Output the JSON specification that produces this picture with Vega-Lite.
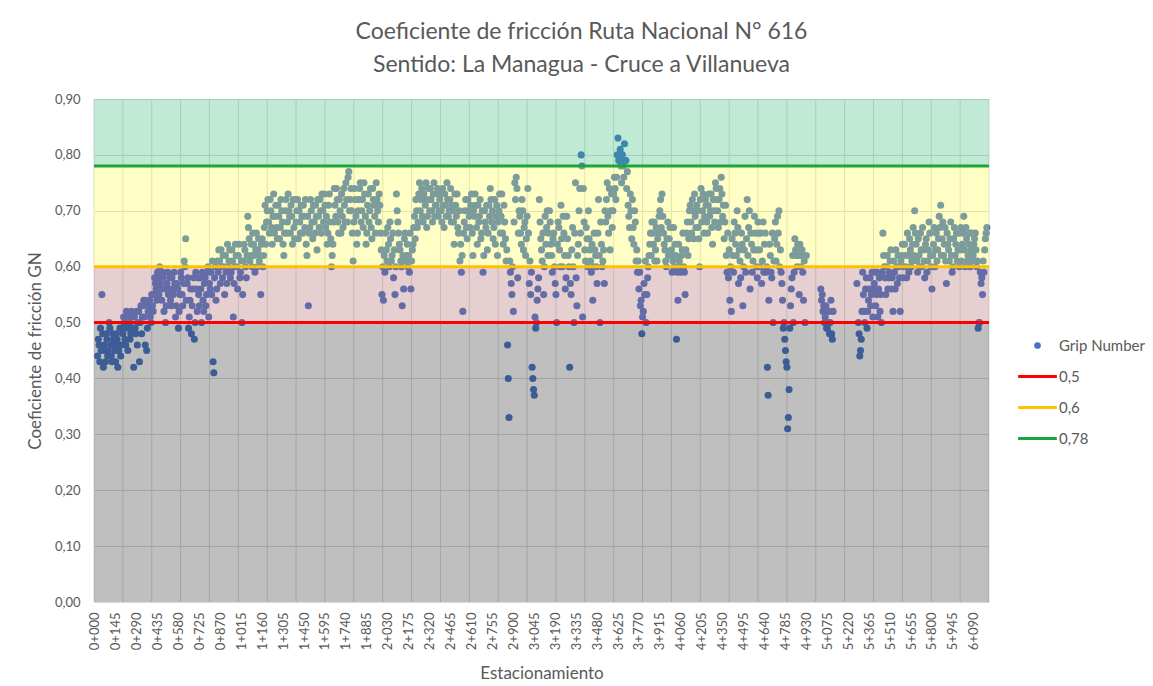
{
"$schema": "https://vega.github.io/schema/vega-lite/v6.json",
"width": 895, "height": 503,
"autosize": {"type": "none"},
"padding": {"left": 94, "top": 99, "right": 164, "bottom": 84},
"background": "white",
"title": {"text": ["Coeficiente de fricción Ruta Nacional N° 616", "Sentido: La Managua - Cruce a Villanueva"], "anchor": "middle", "dx": 40, "offset": 16, "fontSize": 23, "lineHeight": 33, "font": "Lato", "fontWeight": "normal", "color": "#595959"},
"datasets": {
"grid": [{"p":-5},{"p":195},{"p":395},{"p":595},{"p":795},{"p":995},{"p":1195},{"p":1395},{"p":1595},{"p":1795},{"p":1995},{"p":2195},{"p":2395},{"p":2595},{"p":2795},{"p":2995},{"p":3195},{"p":3395},{"p":3595},{"p":3795},{"p":3995},{"p":4195},{"p":4395},{"p":4595},{"p":4795},{"p":4995},{"p":5195},{"p":5395},{"p":5595},{"p":5795},{"p":5995},{"p":6195}],
"bands": [{"lo":0,"hi":0.5,"zone":"gris"},{"lo":0.5,"hi":0.6,"zone":"rosa"},{"lo":0.6,"hi":0.78,"zone":"amarillo"},{"lo":0.78,"hi":0.9,"zone":"verde"}],
"thr": [{"v":0.5,"s":"0,5"},{"v":0.6,"s":"0,6"},{"v":0.78,"s":"0,78"}],
"gn": [
{"s":20,"g":0.44},{"s":30,"g":0.46},{"s":40,"g":0.49},{"s":50,"g":0.55},{"s":60,"g":0.42},{"s":70,"g":0.45},{"s":80,"g":0.48},{"s":90,"g":0.44},{"s":100,"g":0.50},
{"s":110,"g":0.46},{"s":120,"g":0.43},{"s":130,"g":0.47},{"s":140,"g":0.45},{"s":150,"g":0.48},{"s":160,"g":0.42},{"s":170,"g":0.46},{"s":180,"g":0.44},{"s":190,"g":0.49},{"s":200,"g":0.51},
{"s":210,"g":0.47},{"s":220,"g":0.52},{"s":230,"g":0.45},{"s":240,"g":0.50},{"s":250,"g":0.48},{"s":260,"g":0.51},{"s":270,"g":0.42},{"s":280,"g":0.49},{"s":290,"g":0.52},{"s":300,"g":0.50},
{"s":310,"g":0.43},{"s":320,"g":0.53},{"s":330,"g":0.51},{"s":340,"g":0.54},{"s":350,"g":0.46},{"s":360,"g":0.45},{"s":370,"g":0.52},{"s":380,"g":0.54},{"s":390,"g":0.50},{"s":400,"g":0.53},
{"s":410,"g":0.55},{"s":420,"g":0.57},{"s":430,"g":0.54},{"s":440,"g":0.58},{"s":450,"g":0.60},{"s":460,"g":0.56},{"s":470,"g":0.59},{"s":480,"g":0.52},{"s":490,"g":0.50},{"s":500,"g":0.57},
{"s":510,"g":0.55},{"s":520,"g":0.58},{"s":530,"g":0.53},{"s":540,"g":0.56},{"s":550,"g":0.59},{"s":560,"g":0.51},{"s":570,"g":0.57},{"s":580,"g":0.49},{"s":590,"g":0.55},{"s":600,"g":0.58},
{"s":610,"g":0.53},{"s":620,"g":0.61},{"s":630,"g":0.65},{"s":640,"g":0.57},{"s":650,"g":0.49},{"s":660,"g":0.54},{"s":670,"g":0.48},{"s":680,"g":0.56},{"s":690,"g":0.47},{"s":700,"g":0.59},
{"s":710,"g":0.52},{"s":720,"g":0.55},{"s":730,"g":0.58},{"s":740,"g":0.50},{"s":750,"g":0.54},{"s":760,"g":0.57},{"s":770,"g":0.53},{"s":780,"g":0.59},{"s":790,"g":0.51},{"s":800,"g":0.56},
{"s":810,"g":0.55},{"s":820,"g":0.43},{"s":825,"g":0.41},{"s":830,"g":0.58},{"s":840,"g":0.54},{"s":850,"g":0.61},{"s":860,"g":0.63},{"s":870,"g":0.57},{"s":880,"g":0.60},{"s":890,"g":0.62},{"s":900,"g":0.55},
{"s":910,"g":0.59},{"s":920,"g":0.64},{"s":930,"g":0.61},{"s":940,"g":0.58},{"s":950,"g":0.63},{"s":960,"g":0.51},{"s":970,"g":0.60},{"s":980,"g":0.62},{"s":990,"g":0.56},{"s":1000,"g":0.64},
{"s":1010,"g":0.59},{"s":1020,"g":0.50},{"s":1030,"g":0.61},{"s":1040,"g":0.63},{"s":1050,"g":0.58},{"s":1060,"g":0.69},{"s":1070,"g":0.65},{"s":1080,"g":0.62},{"s":1090,"g":0.60},{"s":1100,"g":0.64},
{"s":1110,"g":0.59},{"s":1120,"g":0.66},{"s":1130,"g":0.63},{"s":1140,"g":0.61},{"s":1150,"g":0.55},{"s":1160,"g":0.65},{"s":1170,"g":0.62},{"s":1180,"g":0.71},{"s":1190,"g":0.68},{"s":1200,"g":0.72},
{"s":1210,"g":0.66},{"s":1220,"g":0.70},{"s":1230,"g":0.64},{"s":1240,"g":0.73},{"s":1250,"g":0.69},{"s":1260,"g":0.67},{"s":1270,"g":0.71},{"s":1280,"g":0.65},{"s":1290,"g":0.72},{"s":1300,"g":0.68},
{"s":1310,"g":0.62},{"s":1320,"g":0.70},{"s":1330,"g":0.66},{"s":1340,"g":0.73},{"s":1350,"g":0.69},{"s":1360,"g":0.71},{"s":1370,"g":0.64},{"s":1380,"g":0.67},{"s":1390,"g":0.72},{"s":1400,"g":0.70},
{"s":1410,"g":0.65},{"s":1420,"g":0.68},{"s":1430,"g":0.71},{"s":1440,"g":0.66},{"s":1450,"g":0.69},{"s":1460,"g":0.72},{"s":1470,"g":0.62},{"s":1480,"g":0.53},{"s":1490,"g":0.67},{"s":1500,"g":0.70},
{"s":1510,"g":0.65},{"s":1520,"g":0.68},{"s":1530,"g":0.71},{"s":1540,"g":0.63},{"s":1550,"g":0.69},{"s":1560,"g":0.72},{"s":1570,"g":0.66},{"s":1580,"g":0.70},{"s":1590,"g":0.73},{"s":1600,"g":0.67},
{"s":1610,"g":0.64},{"s":1620,"g":0.71},{"s":1630,"g":0.68},{"s":1640,"g":0.60},{"s":1650,"g":0.64},{"s":1660,"g":0.74},{"s":1670,"g":0.69},{"s":1680,"g":0.72},{"s":1690,"g":0.66},{"s":1700,"g":0.70},
{"s":1710,"g":0.73},{"s":1720,"g":0.67},{"s":1730,"g":0.71},{"s":1740,"g":0.75},{"s":1750,"g":0.68},{"s":1760,"g":0.77},{"s":1770,"g":0.72},{"s":1780,"g":0.70},{"s":1790,"g":0.61},{"s":1800,"g":0.74},
{"s":1810,"g":0.69},{"s":1820,"g":0.66},{"s":1830,"g":0.72},{"s":1840,"g":0.75},{"s":1850,"g":0.70},{"s":1860,"g":0.67},{"s":1870,"g":0.73},{"s":1880,"g":0.64},{"s":1890,"g":0.71},{"s":1900,"g":0.68},
{"s":1910,"g":0.74},{"s":1920,"g":0.65},{"s":1930,"g":0.72},{"s":1940,"g":0.69},{"s":1950,"g":0.75},{"s":1960,"g":0.70},{"s":1970,"g":0.73},{"s":1980,"g":0.66},{"s":1990,"g":0.55},{"s":2000,"g":0.54},
{"s":2010,"g":0.59},{"s":2020,"g":0.63},{"s":2030,"g":0.67},{"s":2040,"g":0.60},{"s":2050,"g":0.65},{"s":2060,"g":0.62},{"s":2070,"g":0.58},{"s":2080,"g":0.55},{"s":2090,"g":0.73},{"s":2100,"g":0.68},
{"s":2110,"g":0.64},{"s":2120,"g":0.61},{"s":2130,"g":0.53},{"s":2140,"g":0.56},{"s":2150,"g":0.66},{"s":2160,"g":0.62},{"s":2170,"g":0.60},{"s":2180,"g":0.59},{"s":2190,"g":0.56},{"s":2200,"g":0.63},
{"s":2210,"g":0.67},{"s":2220,"g":0.65},{"s":2230,"g":0.70},{"s":2240,"g":0.68},{"s":2250,"g":0.75},{"s":2260,"g":0.72},{"s":2270,"g":0.69},{"s":2280,"g":0.73},{"s":2290,"g":0.71},{"s":2300,"g":0.67},
{"s":2310,"g":0.74},{"s":2320,"g":0.70},{"s":2330,"g":0.72},{"s":2340,"g":0.68},{"s":2350,"g":0.75},{"s":2360,"g":0.71},{"s":2370,"g":0.73},{"s":2380,"g":0.69},{"s":2390,"g":0.72},{"s":2400,"g":0.70},
{"s":2410,"g":0.74},{"s":2420,"g":0.67},{"s":2430,"g":0.71},{"s":2440,"g":0.75},{"s":2450,"g":0.69},{"s":2460,"g":0.72},{"s":2470,"g":0.68},{"s":2480,"g":0.70},{"s":2490,"g":0.64},{"s":2500,"g":0.71},
{"s":2510,"g":0.73},{"s":2520,"g":0.66},{"s":2530,"g":0.61},{"s":2540,"g":0.59},{"s":2550,"g":0.52},{"s":2560,"g":0.68},{"s":2570,"g":0.72},{"s":2580,"g":0.65},{"s":2590,"g":0.70},{"s":2600,"g":0.67},
{"s":2610,"g":0.73},{"s":2620,"g":0.62},{"s":2630,"g":0.69},{"s":2640,"g":0.71},{"s":2650,"g":0.64},{"s":2660,"g":0.68},{"s":2670,"g":0.72},{"s":2680,"g":0.66},{"s":2690,"g":0.59},{"s":2700,"g":0.70},
{"s":2710,"g":0.67},{"s":2720,"g":0.63},{"s":2730,"g":0.71},{"s":2740,"g":0.74},{"s":2750,"g":0.68},{"s":2760,"g":0.65},{"s":2770,"g":0.72},{"s":2780,"g":0.69},{"s":2790,"g":0.62},{"s":2800,"g":0.70},
{"s":2810,"g":0.66},{"s":2820,"g":0.73},{"s":2830,"g":0.64},{"s":2840,"g":0.68},{"s":2850,"g":0.61},{"s":2860,"g":0.46},{"s":2865,"g":0.40},{"s":2870,"g":0.33},{"s":2880,"g":0.59},{"s":2890,"g":0.55},{"s":2900,"g":0.52},
{"s":2910,"g":0.75},{"s":2920,"g":0.76},{"s":2930,"g":0.58},{"s":2940,"g":0.70},{"s":2950,"g":0.66},{"s":2960,"g":0.72},{"s":2970,"g":0.63},{"s":2980,"g":0.68},{"s":2990,"g":0.65},{"s":3000,"g":0.74},
{"s":3010,"g":0.57},{"s":3020,"g":0.55},{"s":3030,"g":0.42},{"s":3035,"g":0.40},{"s":3040,"g":0.38},{"s":3045,"g":0.37},{"s":3050,"g":0.51},{"s":3055,"g":0.49},{"s":3060,"g":0.50},{"s":3070,"g":0.56},{"s":3080,"g":0.72},{"s":3090,"g":0.65},{"s":3100,"g":0.61},
{"s":3110,"g":0.55},{"s":3120,"g":0.69},{"s":3130,"g":0.67},{"s":3140,"g":0.62},{"s":3150,"g":0.70},{"s":3160,"g":0.64},{"s":3170,"g":0.59},{"s":3180,"g":0.66},{"s":3190,"g":0.57},{"s":3200,"g":0.50},
{"s":3210,"g":0.68},{"s":3220,"g":0.63},{"s":3230,"g":0.71},{"s":3240,"g":0.60},{"s":3250,"g":0.66},{"s":3260,"g":0.56},{"s":3270,"g":0.69},{"s":3280,"g":0.62},{"s":3290,"g":0.42},{"s":3300,"g":0.55},
{"s":3310,"g":0.67},{"s":3320,"g":0.50},{"s":3330,"g":0.75},{"s":3340,"g":0.53},{"s":3350,"g":0.64},{"s":3360,"g":0.74},{"s":3370,"g":0.80},{"s":3375,"g":0.78},{"s":3380,"g":0.51},{"s":3390,"g":0.68},{"s":3400,"g":0.61},
{"s":3410,"g":0.65},{"s":3420,"g":0.70},{"s":3430,"g":0.63},{"s":3440,"g":0.59},{"s":3450,"g":0.54},{"s":3460,"g":0.66},{"s":3470,"g":0.62},{"s":3480,"g":0.57},{"s":3490,"g":0.72},{"s":3500,"g":0.50},
{"s":3510,"g":0.64},{"s":3520,"g":0.61},{"s":3530,"g":0.57},{"s":3540,"g":0.68},{"s":3550,"g":0.75},{"s":3560,"g":0.66},{"s":3570,"g":0.63},{"s":3580,"g":0.73},{"s":3590,"g":0.70},{"s":3600,"g":0.76},
{"s":3610,"g":0.72},{"s":3620,"g":0.80},{"s":3625,"g":0.83},{"s":3630,"g":0.79},{"s":3640,"g":0.81},{"s":3650,"g":0.75},{"s":3660,"g":0.78},{"s":3670,"g":0.82},{"s":3680,"g":0.79},{"s":3690,"g":0.77},{"s":3700,"g":0.69},
{"s":3710,"g":0.73},{"s":3720,"g":0.65},{"s":3730,"g":0.67},{"s":3740,"g":0.70},{"s":3750,"g":0.61},{"s":3760,"g":0.59},{"s":3770,"g":0.56},{"s":3780,"g":0.53},{"s":3790,"g":0.48},{"s":3800,"g":0.52},
{"s":3810,"g":0.55},{"s":3820,"g":0.50},{"s":3830,"g":0.58},{"s":3840,"g":0.62},{"s":3850,"g":0.66},{"s":3860,"g":0.68},{"s":3870,"g":0.64},{"s":3880,"g":0.61},{"s":3890,"g":0.67},{"s":3900,"g":0.65},
{"s":3910,"g":0.69},{"s":3920,"g":0.72},{"s":3930,"g":0.73},{"s":3940,"g":0.66},{"s":3950,"g":0.63},{"s":3960,"g":0.60},{"s":3970,"g":0.68},{"s":3980,"g":0.65},{"s":3990,"g":0.62},{"s":4000,"g":0.59},
{"s":4010,"g":0.67},{"s":4020,"g":0.64},{"s":4030,"g":0.47},{"s":4040,"g":0.54},{"s":4050,"g":0.61},{"s":4060,"g":0.59},{"s":4070,"g":0.63},{"s":4080,"g":0.60},{"s":4090,"g":0.55},{"s":4100,"g":0.66},
{"s":4110,"g":0.62},{"s":4120,"g":0.70},{"s":4130,"g":0.68},{"s":4140,"g":0.72},{"s":4150,"g":0.65},{"s":4160,"g":0.69},{"s":4170,"g":0.71},{"s":4180,"g":0.67},{"s":4190,"g":0.60},{"s":4200,"g":0.74},
{"s":4210,"g":0.70},{"s":4220,"g":0.66},{"s":4230,"g":0.72},{"s":4240,"g":0.68},{"s":4250,"g":0.71},{"s":4260,"g":0.69},{"s":4270,"g":0.73},{"s":4280,"g":0.64},{"s":4290,"g":0.70},{"s":4300,"g":0.75},
{"s":4310,"g":0.72},{"s":4320,"g":0.67},{"s":4330,"g":0.74},{"s":4340,"g":0.76},{"s":4350,"g":0.69},{"s":4360,"g":0.65},{"s":4370,"g":0.71},{"s":4380,"g":0.59},{"s":4390,"g":0.58},{"s":4400,"g":0.54},
{"s":4410,"g":0.52},{"s":4420,"g":0.62},{"s":4430,"g":0.68},{"s":4440,"g":0.64},{"s":4450,"g":0.70},{"s":4460,"g":0.57},{"s":4470,"g":0.61},{"s":4480,"g":0.66},{"s":4490,"g":0.53},{"s":4500,"g":0.63},
{"s":4510,"g":0.59},{"s":4520,"g":0.72},{"s":4530,"g":0.67},{"s":4540,"g":0.56},{"s":4550,"g":0.64},{"s":4560,"g":0.61},{"s":4570,"g":0.69},{"s":4580,"g":0.63},{"s":4590,"g":0.58},{"s":4600,"g":0.66},
{"s":4610,"g":0.60},{"s":4620,"g":0.57},{"s":4630,"g":0.68},{"s":4640,"g":0.64},{"s":4650,"g":0.59},{"s":4660,"g":0.42},{"s":4665,"g":0.37},{"s":4670,"g":0.54},{"s":4680,"g":0.62},{"s":4690,"g":0.58},{"s":4700,"g":0.50},
{"s":4710,"g":0.65},{"s":4720,"g":0.61},{"s":4730,"g":0.69},{"s":4740,"g":0.70},{"s":4750,"g":0.63},{"s":4760,"g":0.57},{"s":4770,"g":0.49},{"s":4780,"g":0.47},{"s":4785,"g":0.45},{"s":4790,"g":0.43},{"s":4795,"g":0.42},{"s":4800,"g":0.31},
{"s":4805,"g":0.33},{"s":4810,"g":0.38},{"s":4815,"g":0.49},{"s":4820,"g":0.53},{"s":4830,"g":0.58},{"s":4840,"g":0.50},{"s":4850,"g":0.65},{"s":4860,"g":0.62},{"s":4870,"g":0.64},{"s":4880,"g":0.55},{"s":4890,"g":0.60},
{"s":4900,"g":0.63},{"s":4910,"g":0.54},{"s":4920,"g":0.50},{"s":4930,"g":0.62},
{"s":5030,"g":0.56},{"s":5040,"g":0.55},{"s":5050,"g":0.53},{"s":5060,"g":0.51},{"s":5070,"g":0.49},{"s":5080,"g":0.50},{"s":5090,"g":0.48},{"s":5100,"g":0.54},{"s":5110,"g":0.47},{"s":5115,"g":0.52},
{"s":5280,"g":0.57},{"s":5290,"g":0.50},{"s":5295,"g":0.48},{"s":5300,"g":0.44},{"s":5305,"g":0.45},{"s":5310,"g":0.47},{"s":5320,"g":0.59},{"s":5330,"g":0.52},{"s":5340,"g":0.56},{"s":5350,"g":0.49},
{"s":5360,"g":0.54},{"s":5370,"g":0.58},{"s":5380,"g":0.55},{"s":5390,"g":0.51},{"s":5400,"g":0.57},{"s":5410,"g":0.53},{"s":5420,"g":0.59},{"s":5430,"g":0.56},{"s":5440,"g":0.52},{"s":5450,"g":0.50},
{"s":5460,"g":0.66},{"s":5470,"g":0.60},{"s":5480,"g":0.55},{"s":5490,"g":0.62},{"s":5500,"g":0.58},{"s":5510,"g":0.61},{"s":5520,"g":0.56},{"s":5530,"g":0.52},{"s":5540,"g":0.59},{"s":5550,"g":0.63},
{"s":5560,"g":0.57},{"s":5570,"g":0.60},{"s":5580,"g":0.52},{"s":5590,"g":0.62},{"s":5600,"g":0.58},{"s":5610,"g":0.64},{"s":5620,"g":0.60},{"s":5630,"g":0.66},{"s":5640,"g":0.59},{"s":5650,"g":0.63},
{"s":5660,"g":0.61},{"s":5670,"g":0.67},{"s":5680,"g":0.70},{"s":5690,"g":0.64},{"s":5700,"g":0.59},{"s":5710,"g":0.62},{"s":5720,"g":0.66},{"s":5730,"g":0.60},{"s":5740,"g":0.63},{"s":5750,"g":0.58},
{"s":5760,"g":0.65},{"s":5770,"g":0.61},{"s":5780,"g":0.68},{"s":5790,"g":0.62},{"s":5800,"g":0.56},{"s":5810,"g":0.64},{"s":5820,"g":0.60},{"s":5830,"g":0.66},{"s":5840,"g":0.63},{"s":5850,"g":0.69},
{"s":5860,"g":0.71},{"s":5870,"g":0.65},{"s":5880,"g":0.62},{"s":5890,"g":0.67},{"s":5900,"g":0.57},{"s":5910,"g":0.64},{"s":5920,"g":0.61},{"s":5930,"g":0.68},{"s":5940,"g":0.59},{"s":5950,"g":0.65},
{"s":5960,"g":0.62},{"s":5970,"g":0.66},{"s":5980,"g":0.63},{"s":5990,"g":0.60},{"s":6000,"g":0.67},{"s":6010,"g":0.64},{"s":6020,"g":0.69},{"s":6030,"g":0.60},{"s":6040,"g":0.65},{"s":6050,"g":0.62},
{"s":6060,"g":0.66},{"s":6070,"g":0.63},{"s":6080,"g":0.61},{"s":6090,"g":0.64},{"s":6100,"g":0.66},{"s":6110,"g":0.60},{"s":6120,"g":0.49},{"s":6130,"g":0.50},{"s":6140,"g":0.57},{"s":6150,"g":0.55},
{"s":6160,"g":0.59},{"s":6170,"g":0.65},{"s":6180,"g":0.67},
{"s":25,"g":0.47},{"s":35,"g":0.43},{"s":45,"g":0.45},{"s":55,"g":0.48},{"s":65,"g":0.46},{"s":75,"g":0.43},{"s":85,"g":0.47},{"s":95,"g":0.45},{"s":105,"g":0.49},{"s":115,"g":0.44},
{"s":125,"g":0.48},{"s":135,"g":0.46},{"s":145,"g":0.43},{"s":155,"g":0.47},{"s":165,"g":0.45},{"s":175,"g":0.49},{"s":185,"g":0.46},{"s":195,"g":0.48},{"s":205,"g":0.50},{"s":215,"g":0.46},
{"s":225,"g":0.49},{"s":235,"g":0.51},{"s":245,"g":0.47},{"s":255,"g":0.52},{"s":265,"g":0.49},{"s":275,"g":0.51},{"s":285,"g":0.48},{"s":295,"g":0.46},{"s":305,"g":0.52},{"s":315,"g":0.50},
{"s":325,"g":0.48},{"s":335,"g":0.53},{"s":345,"g":0.51},{"s":355,"g":0.54},{"s":365,"g":0.49},{"s":375,"g":0.53},{"s":385,"g":0.51},{"s":395,"g":0.55},{"s":405,"g":0.52},{"s":415,"g":0.58},
{"s":425,"g":0.56},{"s":435,"g":0.59},{"s":445,"g":0.55},{"s":455,"g":0.57},{"s":465,"g":0.54},{"s":475,"g":0.58},{"s":485,"g":0.56},{"s":495,"g":0.53},{"s":505,"g":0.59},{"s":515,"g":0.56},
{"s":525,"g":0.54},{"s":535,"g":0.58},{"s":545,"g":0.55},{"s":555,"g":0.57},{"s":565,"g":0.53},{"s":575,"g":0.56},{"s":585,"g":0.52},{"s":595,"g":0.59},{"s":605,"g":0.55},{"s":615,"g":0.57},
{"s":625,"g":0.60},{"s":635,"g":0.54},{"s":645,"g":0.58},{"s":655,"g":0.51},{"s":665,"g":0.56},{"s":675,"g":0.53},{"s":685,"g":0.58},{"s":695,"g":0.50},{"s":705,"g":0.56},{"s":715,"g":0.58},
{"s":725,"g":0.53},{"s":735,"g":0.56},{"s":745,"g":0.59},{"s":755,"g":0.52},{"s":765,"g":0.58},{"s":775,"g":0.55},{"s":785,"g":0.60},{"s":795,"g":0.57},{"s":805,"g":0.59},{"s":815,"g":0.61},
{"s":835,"g":0.60},{"s":845,"g":0.56},{"s":855,"g":0.59},{"s":865,"g":0.61},{"s":875,"g":0.63},{"s":885,"g":0.58},{"s":895,"g":0.60},{"s":905,"g":0.62},{"s":915,"g":0.57},{"s":925,"g":0.60},
{"s":935,"g":0.63},{"s":945,"g":0.59},{"s":955,"g":0.61},{"s":965,"g":0.57},{"s":975,"g":0.64},{"s":985,"g":0.60},{"s":995,"g":0.62},{"s":1005,"g":0.58},{"s":1015,"g":0.61},{"s":1025,"g":0.55},
{"s":1035,"g":0.64},{"s":1045,"g":0.60},{"s":1055,"g":0.62},{"s":1065,"g":0.67},{"s":1075,"g":0.61},{"s":1085,"g":0.64},{"s":1095,"g":0.66},{"s":1105,"g":0.62},{"s":1115,"g":0.63},{"s":1125,"g":0.60},
{"s":1135,"g":0.65},{"s":1145,"g":0.62},{"s":1155,"g":0.64},{"s":1165,"g":0.60},{"s":1175,"g":0.67},{"s":1185,"g":0.64},{"s":1195,"g":0.70},{"s":1205,"g":0.68},{"s":1215,"g":0.72},{"s":1225,"g":0.67},
{"s":1235,"g":0.69},{"s":1245,"g":0.66},{"s":1255,"g":0.71},{"s":1265,"g":0.65},{"s":1275,"g":0.69},{"s":1285,"g":0.67},{"s":1295,"g":0.70},{"s":1305,"g":0.64},{"s":1315,"g":0.66},{"s":1325,"g":0.72},
{"s":1335,"g":0.68},{"s":1345,"g":0.70},{"s":1355,"g":0.66},{"s":1365,"g":0.69},{"s":1375,"g":0.72},{"s":1385,"g":0.65},{"s":1395,"g":0.68},{"s":1405,"g":0.72},{"s":1415,"g":0.70},{"s":1425,"g":0.66},
{"s":1435,"g":0.69},{"s":1445,"g":0.71},{"s":1455,"g":0.67},{"s":1465,"g":0.64},{"s":1475,"g":0.69},{"s":1485,"g":0.66},{"s":1495,"g":0.72},{"s":1505,"g":0.68},{"s":1515,"g":0.71},{"s":1525,"g":0.66},
{"s":1535,"g":0.69},{"s":1545,"g":0.72},{"s":1555,"g":0.67},{"s":1565,"g":0.70},{"s":1575,"g":0.73},{"s":1585,"g":0.68},{"s":1595,"g":0.71},{"s":1605,"g":0.69},{"s":1615,"g":0.66},{"s":1625,"g":0.73},
{"s":1635,"g":0.65},{"s":1645,"g":0.62},{"s":1655,"g":0.68},{"s":1665,"g":0.71},{"s":1675,"g":0.74},{"s":1685,"g":0.68},{"s":1695,"g":0.72},{"s":1705,"g":0.66},{"s":1715,"g":0.69},{"s":1725,"g":0.74},
{"s":1735,"g":0.68},{"s":1745,"g":0.72},{"s":1755,"g":0.76},{"s":1765,"g":0.70},{"s":1775,"g":0.74},{"s":1785,"g":0.66},{"s":1795,"g":0.68},{"s":1805,"g":0.72},{"s":1815,"g":0.64},{"s":1825,"g":0.70},
{"s":1835,"g":0.74},{"s":1845,"g":0.68},{"s":1855,"g":0.72},{"s":1865,"g":0.75},{"s":1875,"g":0.69},{"s":1885,"g":0.66},{"s":1895,"g":0.73},{"s":1905,"g":0.70},{"s":1915,"g":0.67},{"s":1925,"g":0.74},
{"s":1935,"g":0.71},{"s":1945,"g":0.66},{"s":1955,"g":0.72},{"s":1965,"g":0.68},{"s":1975,"g":0.71},{"s":1985,"g":0.63},{"s":1995,"g":0.60},{"s":2005,"g":0.62},{"s":2015,"g":0.66},{"s":2025,"g":0.61},
{"s":2035,"g":0.64},{"s":2045,"g":0.68},{"s":2055,"g":0.61},{"s":2065,"g":0.66},{"s":2075,"g":0.63},{"s":2085,"g":0.60},{"s":2095,"g":0.70},{"s":2105,"g":0.66},{"s":2115,"g":0.63},{"s":2125,"g":0.60},
{"s":2135,"g":0.62},{"s":2145,"g":0.65},{"s":2155,"g":0.61},{"s":2165,"g":0.64},{"s":2175,"g":0.62},{"s":2185,"g":0.66},{"s":2195,"g":0.61},{"s":2205,"g":0.64},{"s":2215,"g":0.69},{"s":2225,"g":0.72},
{"s":2235,"g":0.67},{"s":2245,"g":0.73},{"s":2255,"g":0.70},{"s":2265,"g":0.74},{"s":2275,"g":0.68},{"s":2285,"g":0.72},{"s":2295,"g":0.75},{"s":2305,"g":0.69},{"s":2315,"g":0.72},{"s":2325,"g":0.74},
{"s":2335,"g":0.70},{"s":2345,"g":0.73},{"s":2355,"g":0.69},{"s":2365,"g":0.71},{"s":2375,"g":0.74},{"s":2385,"g":0.70},{"s":2395,"g":0.73},{"s":2405,"g":0.68},{"s":2415,"g":0.71},{"s":2425,"g":0.73},
{"s":2435,"g":0.69},{"s":2445,"g":0.72},{"s":2455,"g":0.70},{"s":2465,"g":0.74},{"s":2475,"g":0.71},{"s":2485,"g":0.68},{"s":2495,"g":0.73},{"s":2505,"g":0.69},{"s":2515,"g":0.67},{"s":2525,"g":0.70},
{"s":2535,"g":0.64},{"s":2545,"g":0.62},{"s":2555,"g":0.66},{"s":2565,"g":0.70},{"s":2575,"g":0.67},{"s":2585,"g":0.72},{"s":2595,"g":0.69},{"s":2605,"g":0.71},{"s":2615,"g":0.66},{"s":2625,"g":0.70},
{"s":2635,"g":0.73},{"s":2645,"g":0.67},{"s":2655,"g":0.71},{"s":2665,"g":0.69},{"s":2675,"g":0.65},{"s":2685,"g":0.70},{"s":2695,"g":0.62},{"s":2705,"g":0.68},{"s":2715,"g":0.71},{"s":2725,"g":0.66},
{"s":2735,"g":0.69},{"s":2745,"g":0.72},{"s":2755,"g":0.70},{"s":2765,"g":0.67},{"s":2775,"g":0.64},{"s":2785,"g":0.71},{"s":2795,"g":0.68},{"s":2805,"g":0.73},{"s":2815,"g":0.69},{"s":2825,"g":0.66},
{"s":2835,"g":0.71},{"s":2845,"g":0.65},{"s":2855,"g":0.63},{"s":2875,"g":0.61},{"s":2885,"g":0.57},{"s":2895,"g":0.60},{"s":2905,"g":0.68},{"s":2915,"g":0.72},{"s":2925,"g":0.74},{"s":2935,"g":0.66},
{"s":2945,"g":0.69},{"s":2955,"g":0.64},{"s":2965,"g":0.70},{"s":2975,"g":0.67},{"s":2985,"g":0.62},{"s":2995,"g":0.69},{"s":3005,"g":0.66},{"s":3015,"g":0.61},{"s":3025,"g":0.59},{"s":3065,"g":0.54},
{"s":3075,"g":0.58},{"s":3085,"g":0.68},{"s":3095,"g":0.63},{"s":3105,"g":0.66},{"s":3115,"g":0.60},{"s":3125,"g":0.64},{"s":3135,"g":0.70},{"s":3145,"g":0.66},{"s":3155,"g":0.68},{"s":3165,"g":0.62},
{"s":3175,"g":0.65},{"s":3185,"g":0.60},{"s":3195,"g":0.55},{"s":3205,"g":0.64},{"s":3215,"g":0.67},{"s":3225,"g":0.60},{"s":3235,"g":0.65},{"s":3245,"g":0.69},{"s":3255,"g":0.62},{"s":3265,"g":0.58},
{"s":3275,"g":0.65},{"s":3285,"g":0.60},{"s":3295,"g":0.57},{"s":3305,"g":0.63},{"s":3315,"g":0.60},{"s":3325,"g":0.66},{"s":3335,"g":0.58},{"s":3345,"g":0.62},{"s":3355,"g":0.70},{"s":3365,"g":0.66},
{"s":3385,"g":0.74},{"s":3395,"g":0.63},{"s":3405,"g":0.67},{"s":3415,"g":0.60},{"s":3425,"g":0.65},{"s":3435,"g":0.61},{"s":3445,"g":0.64},{"s":3455,"g":0.60},{"s":3465,"g":0.63},{"s":3475,"g":0.60},
{"s":3485,"g":0.66},{"s":3495,"g":0.62},{"s":3505,"g":0.68},{"s":3515,"g":0.60},{"s":3525,"g":0.63},{"s":3535,"g":0.70},{"s":3545,"g":0.72},{"s":3555,"g":0.69},{"s":3565,"g":0.74},{"s":3575,"g":0.70},
{"s":3585,"g":0.67},{"s":3595,"g":0.73},{"s":3605,"g":0.74},{"s":3615,"g":0.76},{"s":3635,"g":0.80},{"s":3645,"g":0.78},{"s":3655,"g":0.80},{"s":3665,"g":0.76},{"s":3675,"g":0.79},{"s":3685,"g":0.74},
{"s":3695,"g":0.71},{"s":3705,"g":0.67},{"s":3715,"g":0.70},{"s":3725,"g":0.72},{"s":3735,"g":0.64},{"s":3745,"g":0.68},{"s":3755,"g":0.63},{"s":3765,"g":0.61},{"s":3775,"g":0.59},{"s":3785,"g":0.54},
{"s":3795,"g":0.51},{"s":3805,"g":0.57},{"s":3815,"g":0.61},{"s":3825,"g":0.55},{"s":3835,"g":0.60},{"s":3845,"g":0.64},{"s":3855,"g":0.62},{"s":3865,"g":0.66},{"s":3875,"g":0.68},{"s":3885,"g":0.63},
{"s":3895,"g":0.61},{"s":3905,"g":0.66},{"s":3915,"g":0.70},{"s":3925,"g":0.67},{"s":3935,"g":0.69},{"s":3945,"g":0.64},{"s":3955,"g":0.61},{"s":3965,"g":0.65},{"s":3975,"g":0.62},{"s":3985,"g":0.67},
{"s":3995,"g":0.63},{"s":4005,"g":0.61},{"s":4015,"g":0.60},{"s":4025,"g":0.62},{"s":4035,"g":0.59},{"s":4045,"g":0.64},{"s":4055,"g":0.60},{"s":4065,"g":0.62},{"s":4075,"g":0.66},{"s":4085,"g":0.59},
{"s":4095,"g":0.63},{"s":4105,"g":0.68},{"s":4115,"g":0.65},{"s":4125,"g":0.71},{"s":4135,"g":0.66},{"s":4145,"g":0.70},{"s":4155,"g":0.73},{"s":4165,"g":0.67},{"s":4175,"g":0.70},{"s":4185,"g":0.65},
{"s":4195,"g":0.72},{"s":4205,"g":0.68},{"s":4215,"g":0.73},{"s":4225,"g":0.69},{"s":4235,"g":0.71},{"s":4245,"g":0.66},{"s":4255,"g":0.73},{"s":4265,"g":0.70},{"s":4275,"g":0.67},{"s":4285,"g":0.72},
{"s":4295,"g":0.68},{"s":4305,"g":0.74},{"s":4315,"g":0.70},{"s":4325,"g":0.72},{"s":4335,"g":0.68},{"s":4345,"g":0.73},{"s":4355,"g":0.71},{"s":4365,"g":0.68},{"s":4375,"g":0.62},{"s":4385,"g":0.66},
{"s":4395,"g":0.63},{"s":4405,"g":0.60},{"s":4415,"g":0.65},{"s":4425,"g":0.59},{"s":4435,"g":0.66},{"s":4445,"g":0.62},{"s":4455,"g":0.67},{"s":4465,"g":0.63},{"s":4475,"g":0.58},{"s":4485,"g":0.64},
{"s":4495,"g":0.60},{"s":4505,"g":0.69},{"s":4515,"g":0.65},{"s":4525,"g":0.62},{"s":4535,"g":0.70},{"s":4545,"g":0.66},{"s":4555,"g":0.59},{"s":4565,"g":0.63},{"s":4575,"g":0.66},{"s":4585,"g":0.60},
{"s":4595,"g":0.68},{"s":4605,"g":0.63},{"s":4615,"g":0.66},{"s":4625,"g":0.61},{"s":4635,"g":0.59},{"s":4645,"g":0.66},{"s":4655,"g":0.60},{"s":4675,"g":0.64},{"s":4685,"g":0.59},{"s":4695,"g":0.66},
{"s":4705,"g":0.61},{"s":4715,"g":0.68},{"s":4725,"g":0.64},{"s":4735,"g":0.66},{"s":4745,"g":0.60},{"s":4755,"g":0.59},{"s":4765,"g":0.54},{"s":4775,"g":0.50},{"s":4825,"g":0.56},{"s":4835,"g":0.62},
{"s":4845,"g":0.59},{"s":4855,"g":0.63},{"s":4865,"g":0.60},{"s":4875,"g":0.62},{"s":4885,"g":0.64},{"s":4895,"g":0.62},{"s":4905,"g":0.59},{"s":4915,"g":0.61},
{"s":5035,"g":0.54},{"s":5045,"g":0.52},{"s":5055,"g":0.50},{"s":5065,"g":0.53},{"s":5075,"g":0.49},{"s":5085,"g":0.52},{"s":5095,"g":0.50},{"s":5105,"g":0.48},
{"s":5315,"g":0.52},{"s":5325,"g":0.55},{"s":5335,"g":0.50},{"s":5345,"g":0.58},{"s":5355,"g":0.52},{"s":5365,"g":0.56},{"s":5375,"g":0.53},{"s":5385,"g":0.59},{"s":5395,"g":0.56},{"s":5405,"g":0.59},
{"s":5415,"g":0.55},{"s":5425,"g":0.51},{"s":5435,"g":0.58},{"s":5445,"g":0.55},{"s":5455,"g":0.59},{"s":5465,"g":0.62},{"s":5475,"g":0.58},{"s":5485,"g":0.60},{"s":5495,"g":0.56},{"s":5505,"g":0.59},
{"s":5515,"g":0.63},{"s":5525,"g":0.58},{"s":5535,"g":0.61},{"s":5545,"g":0.56},{"s":5555,"g":0.60},{"s":5565,"g":0.62},{"s":5575,"g":0.58},{"s":5585,"g":0.61},{"s":5595,"g":0.64},{"s":5605,"g":0.60},
{"s":5615,"g":0.62},{"s":5625,"g":0.58},{"s":5635,"g":0.62},{"s":5645,"g":0.65},{"s":5655,"g":0.60},{"s":5665,"g":0.64},{"s":5675,"g":0.62},{"s":5685,"g":0.66},{"s":5695,"g":0.61},{"s":5705,"g":0.65},
{"s":5715,"g":0.60},{"s":5725,"g":0.63},{"s":5735,"g":0.67},{"s":5745,"g":0.61},{"s":5755,"g":0.64},{"s":5765,"g":0.59},{"s":5775,"g":0.63},{"s":5785,"g":0.66},{"s":5795,"g":0.60},{"s":5805,"g":0.62},
{"s":5815,"g":0.67},{"s":5825,"g":0.63},{"s":5835,"g":0.61},{"s":5845,"g":0.65},{"s":5855,"g":0.67},{"s":5865,"g":0.62},{"s":5875,"g":0.68},{"s":5885,"g":0.64},{"s":5895,"g":0.61},{"s":5905,"g":0.66},
{"s":5915,"g":0.63},{"s":5925,"g":0.65},{"s":5935,"g":0.62},{"s":5945,"g":0.60},{"s":5955,"g":0.67},{"s":5965,"g":0.64},{"s":5975,"g":0.61},{"s":5985,"g":0.66},{"s":5995,"g":0.63},{"s":6005,"g":0.61},
{"s":6015,"g":0.66},{"s":6025,"g":0.63},{"s":6035,"g":0.67},{"s":6045,"g":0.61},{"s":6055,"g":0.64},{"s":6065,"g":0.60},{"s":6075,"g":0.66},{"s":6085,"g":0.62},{"s":6095,"g":0.65},{"s":6105,"g":0.63},
{"s":6115,"g":0.61},{"s":6125,"g":0.50},{"s":6135,"g":0.59},{"s":6145,"g":0.58},{"s":6155,"g":0.61},{"s":6165,"g":0.63},{"s":6175,"g":0.66}
]},
"layer": [
{"data": {"name": "grid"}, "mark": {"type": "rule", "color": "#D9D9D9", "strokeWidth": 1},
 "encoding": {"x": {"field": "p", "type": "quantitative", "title": "Estacionamiento",
        "scale": {"domain": [-5, 6195], "nice": false, "zero": false},
        "axis": {"values": [0,145,290,435,580,725,870,1015,1160,1305,1450,1595,1740,1885,2030,2175,2320,2465,2610,2755,2900,3045,3190,3335,3480,3625,3770,3915,4060,4205,4350,4495,4640,4785,4930,5075,5220,5365,5510,5655,5800,5945,6090],
                 "labelExpr": "floor(datum.value/1000) + '+' + slice('00' + toString(datum.value % 1000), -3)",
                 "labelAngle": -90, "grid": false, "ticks": false, "domainColor": "#D9D9D9", "labelPadding": 10, "labelFontSize": 13, "titleFontSize": 17, "titlePadding": 16, "labelOverlap": false, "labelSeparation": 0}}}},
{"data": {"name": "gn"}, "mark": {"type": "circle", "size": 50, "opacity": 1},
 "encoding": {
  "x": {"field": "s", "type": "quantitative", "title": "Estacionamiento",
        "scale": {"domain": [-5, 6195], "nice": false, "zero": false},
        "axis": {"values": [0,145,290,435,580,725,870,1015,1160,1305,1450,1595,1740,1885,2030,2175,2320,2465,2610,2755,2900,3045,3190,3335,3480,3625,3770,3915,4060,4205,4350,4495,4640,4785,4930,5075,5220,5365,5510,5655,5800,5945,6090],
                 "labelExpr": "floor(datum.value/1000) + '+' + slice('00' + toString(datum.value % 1000), -3)",
                 "labelAngle": -90, "grid": false, "ticks": false, "domainColor": "#D9D9D9", "labelPadding": 10, "labelFontSize": 13, "titleFontSize": 17, "titlePadding": 16, "labelOverlap": false, "labelSeparation": 0}},
  "y": {"field": "g", "type": "quantitative", "title": "Coeficiente de fricción GN",
        "scale": {"domain": [0, 0.9], "nice": false},
        "axis": {"values": [0,0.1,0.2,0.3,0.4,0.5,0.6,0.7,0.8,0.9], "labelExpr": "replace(format(datum.value, '.2f'), '.', ',')",
                 "grid": true, "gridColor": "#D9D9D9", "ticks": false, "domain": false, "labelPadding": 14, "labelFontSize": 13, "titleFontSize": 17, "titlePadding": 10}},
  "color": {"datum": "Grip Number", "type": "nominal",
            "scale": {"domain": ["Grip Number", "0,5", "0,6", "0,78"], "range": ["#4472C4", "#FF0000", "#FFC000", "#1AA63A"]}}
 }},
{"data": {"name": "bands"}, "mark": {"type": "rect", "opacity": 0.3},
 "encoding": {
  "y": {"field": "lo", "type": "quantitative"}, "y2": {"field": "hi"},
  "fill": {"field": "zone", "type": "nominal", "legend": null,
           "scale": {"domain": ["gris", "rosa", "amarillo", "verde"], "range": ["#2A2A2A", "#AC5F62", "#FFFF3E", "#2DB973"]}}
 }},
{"data": {"name": "thr"}, "mark": {"type": "rule", "strokeWidth": 3},
 "encoding": {
  "y": {"field": "v", "type": "quantitative"},
  "color": {"field": "s", "type": "nominal",
            "scale": {"domain": ["Grip Number", "0,5", "0,6", "0,78"], "range": ["#4472C4", "#FF0000", "#FFC000", "#1AA63A"]},
            "legend": {"title": null, "orient": "none", "legendX": 936, "legendY": 239, "padding": 0,
                       "labelFont": "Lato", "labelFontSize": 15, "labelColor": "#595959", "labelOffset": 14, "rowPadding": 15,
                       "encode": {"symbols": {"update": {
                          "shape": {"signal": "datum.value === 'Grip Number' ? 'circle' : 'stroke'"},
                          "size": {"signal": "datum.value === 'Grip Number' ? 45 : 1500"},
                          "fill": {"signal": "datum.value === 'Grip Number' ? '#4472C4' : 'transparent'"},
                          "stroke": {"scale": "color", "field": "value"},
                          "strokeWidth": {"signal": "datum.value === 'Grip Number' ? 0 : 3"}}}}}}
 }}
],
"config": {
 "view": {"stroke": null},
 "axis": {"labelFont": "Lato", "titleFont": "Lato", "labelColor": "#595959", "titleColor": "#595959", "titleFontWeight": "normal", "labelOverlap": false},
 "legend": {"labelFont": "Lato"}
}
}
